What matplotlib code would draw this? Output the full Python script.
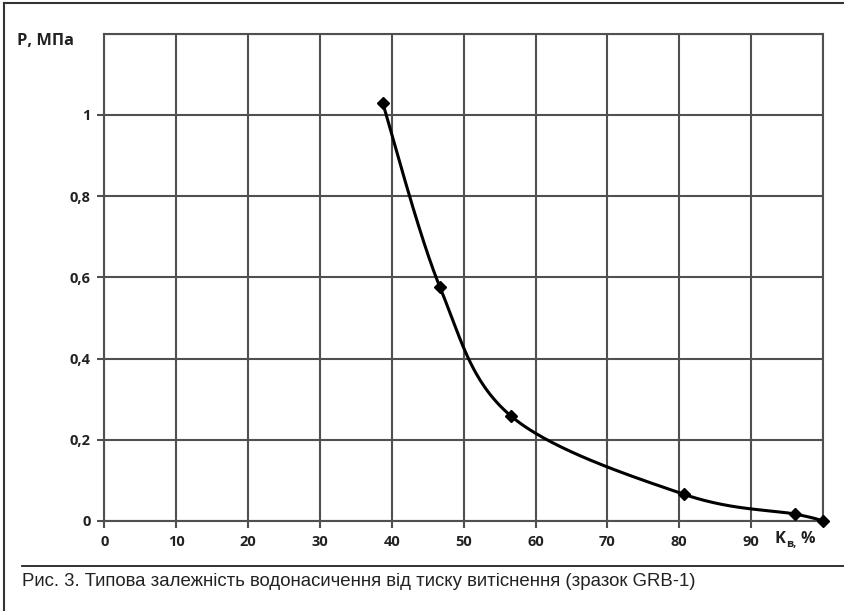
import numpy as np
import matplotlib
matplotlib.use("Agg")
import matplotlib.pyplot as plt
from matplotlib.lines import Line2D

# Data
kv = [38.7, 46.7, 56.6, 80.6, 96.1, 100.0]
p = [1.03, 0.575, 0.258, 0.066, 0.017, 0.0]
x_ticks = [0, 10, 20, 30, 40, 50, 60, 70, 80, 90]
y_ticks = [0, 0.2, 0.4, 0.6, 0.8, 1.0]
y_tick_labels = ["0", "0,2", "0,4", "0,6", "0,8", "1"]
caption = "Рис. 3. Типова залежність водонасичення від тиску витіснення (зразок GRB-1)"
ylabel = "Р, МПа"

W, H = 845, 611
fig = plt.figure(figsize=(W / 100, H / 100), dpi=100)
fig.patch.set_facecolor("white")

L, R, B, T = 104.5, 823, 521, 33.5
ax = fig.add_axes([L / W, 1 - B / H, (R - L) / W, (B - T) / H])
ax.set_xlim(0, 100)
ax.set_ylim(0, 1.2)

gc = "#505050"
ax.set_xticks(x_ticks + [100])
ax.set_yticks(y_ticks + [1.2])
ax.grid(True, color=gc, linewidth=1.5)
ax.set_axisbelow(True)
for s in ax.spines.values():
    s.set_color(gc)
    s.set_linewidth(1.5)
ax.set_xticklabels([str(v) for v in x_ticks] + [""])
ax.set_yticklabels(y_tick_labels + [""])
ax.tick_params(axis="both", direction="out", length=5, width=1.5, color=gc,
               labelsize=10.5, pad=5)
for lab in ax.get_xticklabels() + ax.get_yticklabels():
    lab.set_fontfamily("Open Sans")
    lab.set_fontweight("bold")
    lab.set_color("#222222")
ax.yaxis.get_major_ticks()[-1].tick1line.set_visible(False)
ax.xaxis.get_major_ticks()[-1].tick1line.set_visible(False)

# Smooth curve (Catmull-Rom / Excel-like) in normalized axes space
asp = (B - T) / (R - L)
xs = np.array(kv) / 100.0
ys = np.array(p) / 1.2 * asp
pts = np.column_stack([xs, ys])
n = len(pts)
curve = []
tt = np.linspace(0, 1, 60)
for i in range(n - 1):
    p0 = pts[i - 1] if i > 0 else pts[i]
    p1 = pts[i]
    p2 = pts[i + 1]
    p3 = pts[i + 2] if i + 2 < n else pts[i + 1]
    c1 = p1 + (p2 - p0) / 6.0
    c2 = p2 - (p3 - p1) / 6.0
    for t in tt:
        b = ((1 - t) ** 3) * p1 + 3 * ((1 - t) ** 2) * t * c1 + 3 * (1 - t) * t * t * c2 + t ** 3 * p2
        curve.append(b)
curve = np.array(curve)
cx = curve[:, 0] * 100.0
cy = curve[:, 1] / asp * 1.2
ax.plot(cx, cy, color="black", linewidth=2.2, clip_on=False, zorder=3)
ax.plot(kv, p, linestyle="none", marker="D", markersize=6, color="black",
        clip_on=False, zorder=4)

# axis labels
tc = "#222222"
fig.text(17 / W, 1 - 41 / H, ylabel, fontfamily="Open Sans", fontweight="bold",
         fontsize=11.8, va="center", ha="left", color=tc)
fig.text(775 / W, 1 - 539 / H, "K", fontfamily="Open Sans", fontweight="bold",
         fontsize=11.8, va="center", ha="left", color=tc)
fig.text(786.5 / W, 1 - 544 / H, "в,", fontfamily="Open Sans", fontweight="bold",
         fontsize=8, va="center", ha="left", color=tc)
fig.text(801 / W, 1 - 539 / H, "%", fontfamily="Open Sans", fontweight="bold",
         fontsize=11.5, va="center", ha="left", color=tc)

# outer frame lines
fig.add_artist(Line2D([4.5 / W, 4.5 / W], [0, 1 - 2.5 / H], color="#333333",
                      linewidth=1.5, transform=fig.transFigure))
fig.add_artist(Line2D([4.5 / W, 1], [1 - 2.5 / H, 1 - 2.5 / H], color="#333333",
                      linewidth=1.5, transform=fig.transFigure))
fig.add_artist(Line2D([22 / W, 1], [1 - 566 / H, 1 - 566 / H], color="#222222",
                      linewidth=1.3, transform=fig.transFigure))

fig.text(22 / W, 1 - 582 / H, caption, fontfamily="Liberation Sans",
         fontsize=13.4, va="center", ha="left", color=tc)

fig.savefig("out.png", dpi=100)
